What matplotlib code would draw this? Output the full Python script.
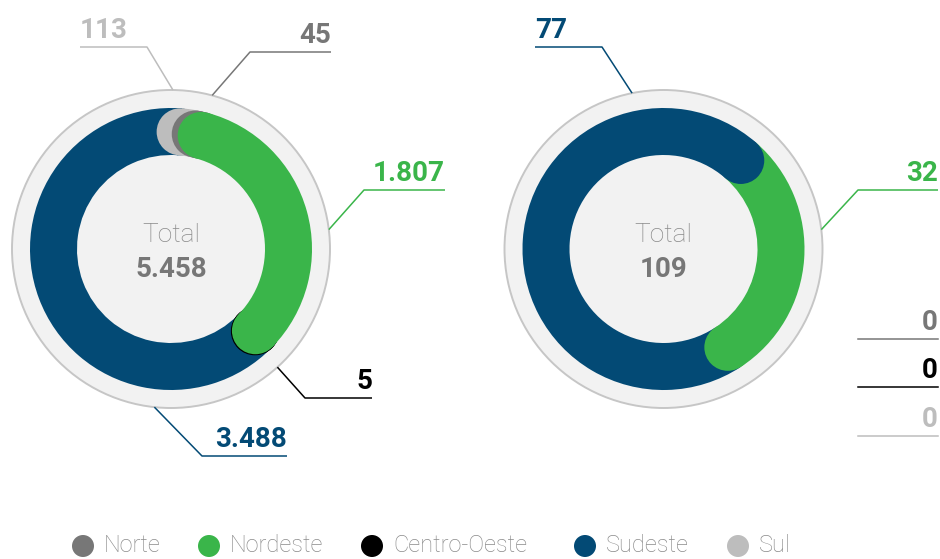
import numpy as np
import matplotlib.pyplot as plt
from matplotlib.patches import Circle, Wedge

plt.rcParams['font.family'] = ['Roboto', 'DejaVu Sans']

regioes = ['Norte', 'Nordeste', 'Centro-Oeste', 'Sudeste', 'Sul']
cores = ['#777777', '#3ab54a', '#000000', '#034a75', '#bdbdbd']
valores_esq = [45, 1807, 5, 3488, 113]
valores_dir = [0, 32, 0, 77, 0]

# ordem dos arcos no sentido horario
ordem = [3, 4, 0, 1, 2]

R_EXT = 159
R_ARCO = 141
LARG = 47
R_MEIO = R_ARCO - LARG / 2


def fmt(v):
    return f"{v:,}".replace(',', '.')


def ponto(cx, cy, ang, r):
    a = np.radians(ang)
    return cx + r * np.sin(a), cy - r * np.cos(a)


def rosca(ax, cx, cy, valores, inicio, modo, camadas):
    ax.add_patch(Circle((cx, cy), R_EXT, facecolor='#f2f2f2', edgecolor='#c6c6c6', lw=1.4, zorder=1))
    total = sum(valores)
    angs = {}
    a = inicio
    for i in ordem:
        span = valores[i] / total * 360
        angs[i] = (a, a + span)
        a += span
    if modo == 'pilha':
        for z, i in enumerate(camadas):
            if valores[i] == 0:
                continue
            a1, a2 = angs[i]
            ax.add_patch(Wedge((cx, cy), R_ARCO, a1 - 90, a2 - 90, width=LARG, color=cores[i], lw=0, zorder=2 + z))
            for ang in (a1, a2):
                ax.add_patch(Circle(ponto(cx, cy, ang, R_MEIO), LARG / 2, color=cores[i], lw=0.8 if cores[i] == '#000000' else 0, zorder=2 + z))
    else:
        for i in ordem:
            if valores[i] == 0:
                continue
            a1, a2 = angs[i]
            ax.add_patch(Wedge((cx, cy), R_ARCO, a1 - 90, a2 - 90, width=LARG, color=cores[i], lw=0, zorder=2))
        for i in ordem:
            if valores[i] == 0:
                continue
            ax.add_patch(Circle(ponto(cx, cy, angs[i][1], R_MEIO), LARG / 2, color=cores[i], lw=0, zorder=3))
    ax.text(cx, cy - 7, 'Total', ha='center', va='baseline', fontsize=19, fontweight='light', color='#8a8a8a', zorder=10)
    ax.text(cx, cy + 28, fmt(total), ha='center', va='baseline', fontsize=20, fontweight='bold', color='#777777', zorder=10)


def rotulo(ax, cx, cy, valor, cor, ang, cotovelo, fim, ha):
    x0, y0 = ponto(cx, cy, ang, R_EXT)
    ex, ey = cotovelo
    ax.plot([x0, ex, fim], [y0, ey, ey], color=cor, lw=1.1, solid_capstyle='butt', zorder=5)
    tx = min(ex, fim) if ha == 'left' else max(ex, fim)
    ax.text(tx, ey - 9, fmt(valor), ha=ha, va='baseline', fontsize=20, fontweight='bold', color=cor)


fig = plt.figure(figsize=(9.4, 5.59), dpi=100)
ax = fig.add_axes([0, 0, 1, 1])
ax.set_xlim(0, 940)
ax.set_ylim(559, 0)
ax.axis('off')

# grafico da esquerda
cxe, cye = 171, 249
rosca(ax, cxe, cye, valores_esq, 134.4, 'pilha', [3, 2, 4, 0, 1])
rotulo(ax, cxe, cye, valores_esq[4], cores[4], 0.7, (147, 47), 80, 'left')
rotulo(ax, cxe, cye, valores_esq[0], cores[0], 15, (250, 52), 331, 'right')
rotulo(ax, cxe, cye, valores_esq[1], cores[1], 83, (364, 190), 445, 'right')
rotulo(ax, cxe, cye, valores_esq[2], cores[2], 138, (305, 398), 372, 'right')
rotulo(ax, cxe, cye, valores_esq[3], cores[3], 186, (202, 456), 287, 'right')

# grafico da direita
cxd, cyd = 663.5, 249
rosca(ax, cxd, cyd, valores_dir, 146.8, 'cadeia', None)
rotulo(ax, cxd, cyd, valores_dir[3], cores[3], 348.6, (602, 47), 535, 'left')
rotulo(ax, cxd, cyd, valores_dir[1], cores[1], 83, (858, 190), 938, 'right')
for i, yl in zip([0, 2, 4], [339, 387, 436]):
    ax.plot([858, 938], [yl, yl], color=cores[i], lw=1.1)
    ax.text(938, yl - 9, fmt(valores_dir[i]), ha='right', va='baseline', fontsize=20, fontweight='bold', color=cores[i])

# legenda
leg_x = [83, 209, 372, 585, 738]
for i, x in enumerate(leg_x):
    ax.add_patch(Circle((x, 546), 11, color=cores[i], lw=0))
    ax.text(x + 21, 546, regioes[i], ha='left', va='center', fontsize=17, fontweight='light', color='#8a8a8a')

fig.savefig('out.png', dpi=100)
